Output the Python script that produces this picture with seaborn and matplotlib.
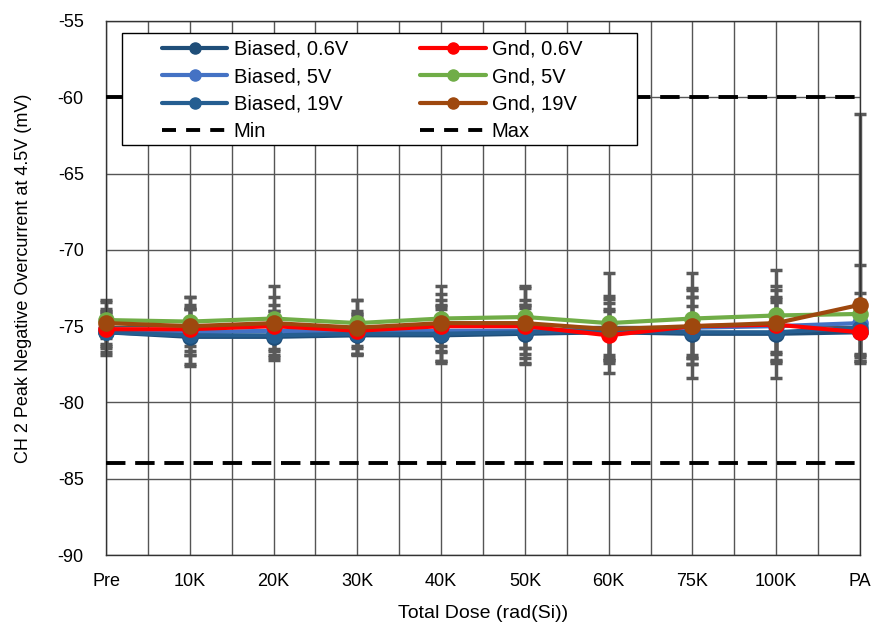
import numpy as np
import pandas as pd
import seaborn as sns
import matplotlib.pyplot as plt
from matplotlib.lines import Line2D
from matplotlib.patches import Rectangle

doses = ['Pre', '10K', '20K', '30K', '40K', '50K', '60K', '75K', '100K', 'PA']

biased_06 = [-75.4, -75.7, -75.7, -75.6, -75.6, -75.5, -75.4, -75.5, -75.5, -75.4]
biased_5 = [-75.2, -75.4, -75.3, -75.4, -75.3, -75.3, -75.2, -75.1, -75.0, -74.8]
biased_19 = [-75.4, -75.6, -75.6, -75.5, -75.5, -75.4, -75.3, -75.4, -75.4, -75.1]
gnd_06 = [-75.2, -75.2, -75.0, -75.3, -75.0, -75.0, -75.6, -75.0, -74.9, -75.4]
gnd_5 = [-74.6, -74.7, -74.5, -74.8, -74.5, -74.4, -74.8, -74.5, -74.3, -74.2]
gnd_19 = [-74.8, -75.0, -74.8, -75.1, -74.8, -74.8, -75.2, -75.0, -74.8, -73.6]

err_biased_06 = [1.3, 1.8, 1.2, 1.2, 1.7, 1.9, 1.5, 2.9, 2.9, 1.9]
err_biased_5 = [1.2, 1.5, 1.7, 1.4, 2.0, 1.5, 2.0, 2.0, 1.8, 2.0]
err_biased_19 = [1.5, 2.0, 1.6, 1.3, 1.9, 2.1, 1.8, 1.7, 2.0, 1.8]
err_gnd_06 = [1.0, 1.4, 1.0, 1.1, 1.3, 1.4, 1.6, 1.9, 1.8, 1.6]
err_gnd_5 = [1.2, 1.6, 2.1, 1.5, 2.1, 2.0, 3.3, 3.0, 3.0, 3.2]
err_gnd_19_lo = [1.5, 1.9, 1.7, 1.8, 1.9, 2.3, 2.2, 2.5, 2.4, 3.7]
err_gnd_19_hi = [1.5, 1.9, 1.7, 1.8, 1.9, 2.3, 2.2, 2.5, 2.4, 12.5]

min_limit = -84
max_limit = -60

names = ['Biased, 0.6V', 'Biased, 5V', 'Biased, 19V', 'Gnd, 0.6V', 'Gnd, 5V', 'Gnd, 19V']
values = [biased_06, biased_5, biased_19, gnd_06, gnd_5, gnd_19]
errs_lo = [err_biased_06, err_biased_5, err_biased_19, err_gnd_06, err_gnd_5, err_gnd_19_lo]
errs_hi = [err_biased_06, err_biased_5, err_biased_19, err_gnd_06, err_gnd_5, err_gnd_19_hi]
colors = ['#1F4E79', '#4472C4', '#255E91', '#FF0000', '#70AD47', '#9E480E']
palette = dict(zip(names, colors))

pos = np.arange(len(doses))
df = pd.DataFrame({
    'pos': np.tile(pos, len(names)),
    'value': np.concatenate(values),
    'series': np.repeat(names, len(doses)),
})

sns.set_style('white')
plt.rcParams['font.family'] = ['Liberation Sans', 'DejaVu Sans']
plt.rcParams['axes.unicode_minus'] = False
plt.rcParams['text.color'] = 'black'
plt.rcParams['axes.labelcolor'] = 'black'
plt.rcParams['xtick.color'] = 'black'
plt.rcParams['ytick.color'] = 'black'

fig = plt.figure(figsize=(8.74, 6.23), dpi=100)
ax = fig.add_axes([0.1213, 0.1091, 0.8627, 0.8572])

# error bars first, all gray
for v, lo, hi in zip(values, errs_lo, errs_hi):
    eb = ax.errorbar(pos, v, yerr=[lo, hi], fmt='none', ecolor='#595959',
                     elinewidth=2.5, capsize=4.5, capthick=2.5, zorder=2)
    for art in eb.lines[1] + eb.lines[2]:
        art.set_clip_on(False)

sns.lineplot(data=df, x='pos', y='value', hue='series', palette=palette,
             hue_order=names, marker='o', markersize=12, markeredgewidth=0,
             linewidth=3, sort=False, legend=False, ax=ax, zorder=3, clip_on=False)

dash = (0, (5, 2.5))
ax.axhline(min_limit, color='black', lw=2.8, ls=dash, zorder=4)
ax.axhline(max_limit, color='black', lw=2.8, ls=dash, zorder=4)

ax.set_xlim(0, 9)
ax.set_ylim(-90, -55)
ax.set_xticks(pos)
ax.set_xticklabels(doses)
ax.set_xticks(np.arange(0, 9.01, 0.5), minor=True)
ax.set_yticks(np.arange(-90, -54, 5))
ax.grid(True, which='minor', axis='x', color='#555555', lw=1)
ax.grid(True, which='major', axis='x', color='#555555', lw=1)
ax.grid(True, which='major', axis='y', color='#555555', lw=1)
ax.set_axisbelow(True)
ax.tick_params(axis='x', which='both', length=0, labelsize=13, pad=13)
ax.tick_params(axis='y', which='both', length=0, labelsize=13, pad=16)
for s in ax.spines.values():
    s.set_color('#333333')
    s.set_linewidth(1)

ax.set_xlabel('Total Dose (rad(Si))', fontsize=14, labelpad=11)
ax.set_ylabel('CH 2 Peak Negative Overcurrent at 4.5V (mV)', fontsize=13)
ax.yaxis.set_label_coords(-0.098, 0.519)

# legend frame drawn separately so the padding matches the original
ax.add_patch(Rectangle((0.0212, 0.768), 0.683, 0.2097, transform=ax.transAxes,
                       facecolor='white', edgecolor='black', lw=1, zorder=9,
                       clip_on=False))

leg_dash = (0, (3.6, 2.6))
handles = [Line2D([], [], color=c, lw=3, marker='o', markersize=8) for c in colors[:3]]
handles.append(Line2D([], [], color='black', lw=2.8, ls=leg_dash))
handles += [Line2D([], [], color=c, lw=3, marker='o', markersize=8) for c in colors[3:]]
handles.append(Line2D([], [], color='black', lw=2.8, ls=leg_dash))
labels = names[:3] + ['Min'] + names[3:] + ['Max']
leg = ax.legend(handles, labels, ncol=2, loc='upper left',
                bbox_to_anchor=(0.0743, 0.9645),
                fontsize=14.5, frameon=False, handlelength=3.25, handletextpad=0.3,
                columnspacing=3.6, labelspacing=0.42, borderpad=0, borderaxespad=0)
leg.set_zorder(10)

plt.savefig('out.png', dpi=100)
